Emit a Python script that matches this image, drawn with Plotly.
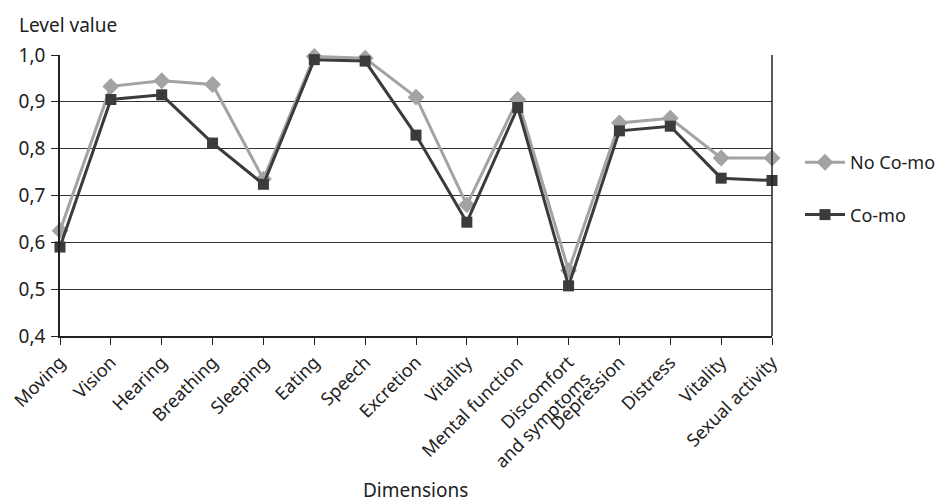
import plotly.graph_objects as go

# Quality-of-life dimensions (Vitality appears twice in the instrument)
dimensions = ["Moving", "Vision", "Hearing", "Breathing", "Sleeping", "Eating",
              "Speech", "Excretion", "Vitality", "Mental function",
              "Discomfort<br>and symptoms", "Depression", "Distress", "Vitality",
              "Sexual activity"]
no_como = [0.625, 0.933, 0.945, 0.937, 0.735, 0.997, 0.993, 0.910, 0.680,
           0.905, 0.540, 0.855, 0.865, 0.780, 0.780]
como = [0.590, 0.905, 0.915, 0.812, 0.724, 0.990, 0.987, 0.829, 0.643,
        0.888, 0.507, 0.838, 0.848, 0.737, 0.732]
y_ticks = [0.4, 0.5, 0.6, 0.7, 0.8, 0.9, 1.0]

positions = list(range(len(dimensions)))
FONT = "Noto Sans, sans-serif"

W, H = 937, 502
L, R, T, B = 60, 165, 55, 166
plot_w = W - L - R
plot_h = H - T - B


def px_x(px):
    return (px - L) / plot_w


def px_y(py):
    return (H - B - py) / plot_h


fig = go.Figure()
fig.add_trace(go.Scatter(
    x=positions, y=no_como, name="No Co-mo", mode="lines+markers",
    legendgroup="a",
    line=dict(color="#a3a3a3", width=3),
    marker=dict(symbol="diamond", size=13, color="#a3a3a3"),
    cliponaxis=False,
))
fig.add_trace(go.Scatter(
    x=positions, y=como, name="Co-mo", mode="lines+markers",
    legendgroup="b",
    line=dict(color="#3b3b3b", width=3),
    marker=dict(symbol="square", size=11, color="#3b3b3b"),
    cliponaxis=False,
))

fig.update_layout(
    width=W, height=H,
    margin=dict(l=L, r=R, t=T, b=B),
    paper_bgcolor="white", plot_bgcolor="white",
    font=dict(family=FONT, size=18, color="#222222"),
    separators=",.",
    showlegend=True,
    legend=dict(xref="container", yref="container",
                x=800 / W, y=1 - 144 / H, xanchor="left", yanchor="top",
                font=dict(size=18), tracegroupgap=26, itemwidth=40,
                bgcolor="rgba(0,0,0,0)"),
    xaxis=dict(
        range=[0, len(dimensions) - 1],
        tickmode="array", tickvals=positions, ticktext=dimensions,
        tickangle=-45, ticks="outside", ticklen=7, tickcolor="#222222",
        showgrid=False, zeroline=False, automargin=False,
        showline=True, linecolor="#222222", linewidth=1.5,
        tickfont=dict(size=18),
    ),
    yaxis=dict(
        range=[0.4, 1.0], tickmode="array", tickvals=y_ticks,
        tickformat=".1f", ticks="outside", ticklen=7, tickcolor="#222222",
        ticklabelstandoff=2,
        showgrid=True, gridcolor="#333333", gridwidth=1, automargin=False,
        zeroline=False, showline=True, linecolor="#222222", linewidth=1.5,
        tickfont=dict(size=19),
    ),
    annotations=[
        dict(text="Level value", x=px_x(17), y=px_y(25), xref="paper", yref="paper",
             xanchor="left", yanchor="middle", showarrow=False,
             font=dict(size=19)),
        dict(text="Dimensions", x=px_x(415), y=px_y(490), xref="paper", yref="paper",
             xanchor="center", yanchor="middle", showarrow=False,
             font=dict(size=19)),
    ],
    shapes=[
        dict(type="line", xref="x domain", yref="y domain", x0=1, x1=1, y0=0, y1=1,
             line=dict(color="#222222", width=1.5)),
    ],
)

fig.write_html("out.html")
